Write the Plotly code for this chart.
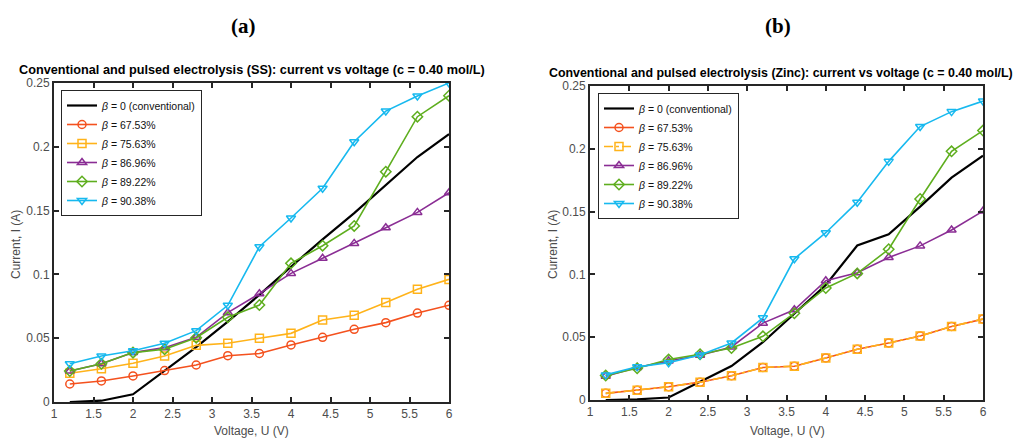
import plotly.graph_objects as go

voltage = [1.2, 1.6, 2.0, 2.4, 2.8, 3.2, 3.6, 4.0, 4.4, 4.8, 5.2, 5.6, 6.0]

series_names = ["β = 0 (conventional)", "β = 67.53%", "β = 75.63%",
                "β = 86.96%", "β = 89.22%", "β = 90.38%"]

# (a) SS
ss_conv = [0.0, 0.001, 0.006, 0.0246, 0.043, 0.063, 0.084, 0.106, 0.1275, 0.148, 0.170, 0.192, 0.210]
ss_6753 = [0.0141, 0.0165, 0.0204, 0.0246, 0.029, 0.0363, 0.038, 0.0447, 0.0507, 0.057, 0.0622, 0.0697, 0.0758]
ss_7563 = [0.0225, 0.0261, 0.0303, 0.036, 0.0444, 0.046, 0.050, 0.0538, 0.0643, 0.068, 0.078, 0.0883, 0.0961]
ss_8696 = [0.0243, 0.030, 0.0387, 0.0426, 0.0507, 0.070, 0.0849, 0.1008, 0.1126, 0.1243, 0.1366, 0.1486, 0.164]
ss_8922 = [0.0243, 0.030, 0.0387, 0.0413, 0.0504, 0.0664, 0.076, 0.1087, 0.1225, 0.138, 0.1805, 0.2236, 0.240]
ss_9038 = [0.030, 0.036, 0.0402, 0.046, 0.0559, 0.0758, 0.1217, 0.1442, 0.1675, 0.204, 0.228, 0.2398, 0.250]

# (b) Zinc
zn_conv = [0.0, 0.0005, 0.002, 0.0145, 0.027, 0.046, 0.0686, 0.0916, 0.123, 0.132, 0.154, 0.177, 0.1945]
zn_6753 = [0.0053, 0.0077, 0.0106, 0.0142, 0.0193, 0.0259, 0.0269, 0.0335, 0.0404, 0.0454, 0.0509, 0.0586, 0.0644]
zn_7563 = [0.0053, 0.0077, 0.0106, 0.0142, 0.0193, 0.0259, 0.0269, 0.0335, 0.0404, 0.0454, 0.0509, 0.0586, 0.0644]
zn_8696 = [0.019, 0.0259, 0.0311, 0.0356, 0.0422, 0.0612, 0.0718, 0.095, 0.1013, 0.1135, 0.1227, 0.1354, 0.1504]
zn_8922 = [0.0195, 0.0253, 0.0322, 0.0364, 0.0414, 0.0507, 0.0691, 0.0892, 0.1008, 0.120, 0.160, 0.198, 0.2145]
zn_9038 = [0.020, 0.0264, 0.0296, 0.0359, 0.0454, 0.0654, 0.1124, 0.1332, 0.1575, 0.190, 0.2177, 0.2296, 0.238]

x_ticks = [1, 1.5, 2, 2.5, 3, 3.5, 4, 4.5, 5, 5.5, 6]
x_ticklabels = ["1", "1.5", "2", "2.5", "3", "3.5", "4", "4.5", "5", "5.5", "6"]
y_ticks = [0, 0.05, 0.1, 0.15, 0.2, 0.25]
y_ticklabels = ["0", "0.05", "0.1", "0.15", "0.2", "0.25"]

colors = ["#000000", "#F4511E", "#FFB31A", "#8A2D94", "#5EAE1E", "#17B9EF"]
symbols = [None, "circle-open", "square-open", "triangle-up-open", "diamond-open", "triangle-down-open"]

# page body has an 8px margin: size the figure to fill the remaining viewport
OFF = 8
W, H = 1021 - OFF, 439 - OFF
def px(x): return (x - OFF) / W
def py(y): return 1 - (y - OFF) / H

fig = go.Figure()

def add_set(data, xa, ya, legend, dashes):
    for i, (vals, name) in enumerate(zip(data, series_names)):
        label = "<i>β</i>" + name[1:]
        if i == 0:
            fig.add_trace(go.Scatter(x=voltage, y=vals, mode="lines", name=label,
                                     line=dict(color=colors[i], width=2.2),
                                     xaxis=xa, yaxis=ya, legend=legend))
        else:
            fig.add_trace(go.Scatter(x=voltage, y=vals, mode="lines+markers", name=label,
                                     line=dict(color=colors[i], width=1.6, dash=dashes[i]),
                                     marker=dict(symbol=symbols[i], size=8, color=colors[i],
                                                 line=dict(width=1.5, color=colors[i])),
                                     xaxis=xa, yaxis=ya, legend=legend))

add_set([ss_conv, ss_6753, ss_7563, ss_8696, ss_8922, ss_9038], "x", "y", "legend",
        ["solid"] * 6)
add_set([zn_conv, zn_6753, zn_7563, zn_8696, zn_8922, zn_9038], "x2", "y2", "legend2",
        ["solid", "solid", "dashdot", "solid", "solid", "solid"])

tickfont = dict(family="Liberation Sans, Arial, sans-serif", size=12, color="#4D4D4D")
axis_common = dict(showgrid=False, zeroline=False, showline=True, linecolor="#262626",
                   linewidth=2, mirror="ticks", ticks="inside", ticklen=5, tickwidth=1.5,
                   tickcolor="#262626", tickfont=tickfont, automargin=False)

legend_common = dict(xanchor="left", yanchor="top",
                     bgcolor="white", bordercolor="#262626", borderwidth=1,
                     font=dict(family="Liberation Sans, Arial, sans-serif", size=10.5, color="#111111"),
                     tracegroupgap=0, itemwidth=30)

fig.update_layout(
    width=W, height=H,
    margin=dict(l=0, r=0, t=0, b=0, autoexpand=False),
    paper_bgcolor="white", plot_bgcolor="white",
    xaxis=dict(domain=[px(54), px(449)], range=[1, 6], anchor="y",
               tickvals=x_ticks, ticktext=x_ticklabels, **axis_common),
    yaxis=dict(domain=[py(402), py(83)], range=[0, 0.25], anchor="x",
               tickvals=y_ticks, ticktext=y_ticklabels, **axis_common),
    xaxis2=dict(domain=[px(590), px(983)], range=[1, 6], anchor="y2",
                tickvals=x_ticks, ticktext=x_ticklabels, **axis_common),
    yaxis2=dict(domain=[py(400), py(86)], range=[0, 0.25], anchor="x2",
                tickvals=y_ticks, ticktext=y_ticklabels, **axis_common),
    legend=dict(x=px(61), y=py(90), **legend_common),
    legend2=dict(x=px(598), y=py(93), **legend_common),
    showlegend=True,
)

ann_font = dict(family="Liberation Sans, Arial, sans-serif", size=12, color="#4D4D4D")
title_font_a = dict(family="Liberation Sans, Arial, sans-serif", size=12.7, color="#000000")
title_font_b = dict(family="Liberation Sans, Arial, sans-serif", size=12.4, color="#000000")
panel_font = dict(family="Liberation Serif, DejaVu Serif, serif", size=21, color="#000000")

annotations = [
    dict(text="<b>(a)</b>", x=px(243), y=py(26), font=panel_font),
    dict(text="<b>(b)</b>", x=px(778), y=py(26), font=panel_font),
    dict(text="<b>Conventional and pulsed electrolysis (SS): current vs voltage (c = 0.40 mol/L)</b>",
         x=px(252), y=py(70), font=title_font_a),
    dict(text="<b>Conventional and pulsed electrolysis (Zinc): current vs voltage (c = 0.40 mol/L)</b>",
         x=px(781), y=py(73), font=title_font_b),
    dict(text="Voltage, U (V)", x=px(251), y=py(431), font=ann_font),
    dict(text="Voltage, U (V)", x=px(787), y=py(431), font=ann_font),
    dict(text="Current, I (A)", x=px(16), y=py(245), font=ann_font, textangle=-90),
    dict(text="Current, I (A)", x=px(553), y=py(245), font=ann_font, textangle=-90),
]
for a in annotations:
    a.update(xref="paper", yref="paper", showarrow=False, xanchor="center", yanchor="middle")
fig.update_layout(annotations=annotations)

fig.write_html("out.html")
